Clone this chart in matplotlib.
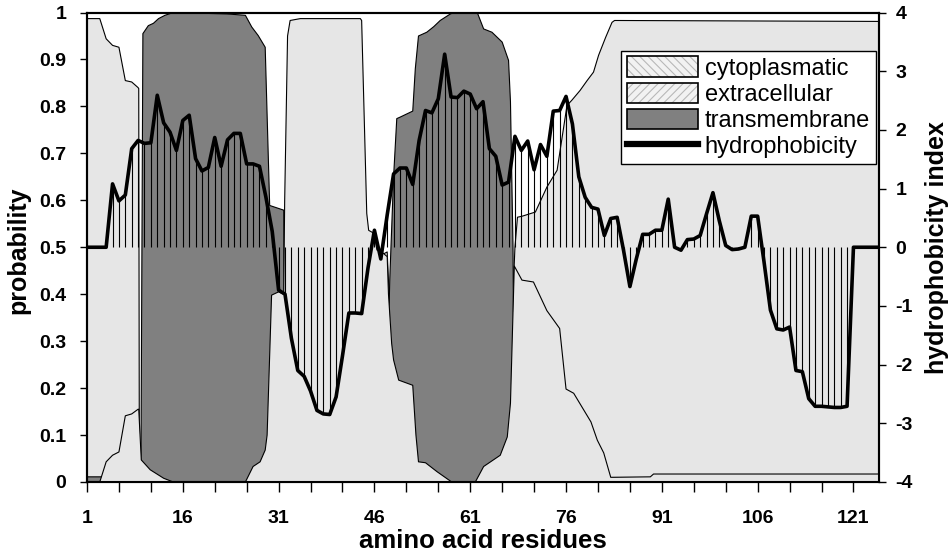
import numpy as np
import matplotlib
matplotlib.use('Agg')
import matplotlib.pyplot as plt
from matplotlib.patches import Patch
from matplotlib.lines import Line2D
from matplotlib.legend_handler import HandlerTuple

plt.rcParams['font.family'] = ['Liberation Sans', 'DejaVu Sans']
plt.rcParams['hatch.linewidth'] = 0.8
plt.rcParams['axes.unicode_minus'] = False

# residue index and hydrophobicity (secondary axis)
residues = np.arange(1, 126)
hydrophobicity = [
    0, 0, 0, 0, 1.08, 0.79, 0.89, 1.68, 1.82, 1.77,
    1.78, 2.59, 2.12, 1.96, 1.65, 2.16, 2.25, 1.51, 1.30, 1.36,
    1.87, 1.38, 1.83, 1.94, 1.94, 1.42, 1.42, 1.38, 0.86, 0.27,
    -0.73, -0.80, -1.55, -2.10, -2.20, -2.45, -2.78, -2.84, -2.85, -2.55,
    -1.85, -1.12, -1.12, -1.13, -0.35, 0.29, -0.20, 0.55, 1.25, 1.35,
    1.35, 1.07, 1.82, 2.33, 2.29, 2.53, 3.29, 2.56, 2.55, 2.66,
    2.61, 2.36, 2.48, 1.68, 1.55, 1.06, 1.11, 1.89, 1.65, 1.81,
    1.32, 1.75, 1.55, 2.32, 2.33, 2.57, 2.10, 1.20, 0.85, 0.68,
    0.65, 0.20, 0.49, 0.51, -0.05, -0.67, -0.20, 0.22, 0.22, 0.29,
    0.29, 0.82, 0.00, -0.05, 0.13, 0.14, 0.20, 0.57, 0.93, 0.45,
    0.03, -0.04, -0.03, 0.00, 0.53, 0.53, -0.25, -1.07, -1.39, -1.41,
    -1.36, -2.10, -2.12, -2.58, -2.71, -2.71, -2.72, -2.73, -2.73, -2.71,
    0, 0, 0, 0, 0,
]

# probability profiles
cyto_x = [1, 3, 4, 5, 6, 7, 8, 9, 9.1, 9.2, 28, 29.3, 44.0, 45.3, 48.0, 48.6, 50.0, 52.0,
          67.0, 67.7, 68.0, 68.4, 69.1, 71.2, 73.0, 74.6, 76.15, 76.9, 78.2, 79.3, 80.3,
          81.1, 82.2, 83.2, 83.6, 125]
cyto_p = [0.987, 0.987, 0.944, 0.930, 0.926, 0.855, 0.852, 0.840, 0.838, 0.003, 0.003, 0.011,
          0.012, 0.47, 0.49, 0.30, 0.05, 0.003,
          0.003, 0.40, 0.50, 0.564, 0.566, 0.575, 0.628, 0.664, 0.802, 0.813, 0.834, 0.855,
          0.873, 0.909, 0.947, 0.979, 0.983, 0.981]

tm_x = [1, 5.6, 6.0, 9.3, 9.45, 9.6, 9.75, 10.6, 11.4, 12.2, 13.2, 14.5, 22.9, 25.8, 26.8,
        27.8, 28.9, 29.6, 31.8, 32.0, 44.0, 44.5, 47.5, 48.0, 48.4, 49.0, 49.5, 50.0, 52.0,
        52.4, 52.9, 54.2, 55.3, 56.3, 57.9, 58.5, 62.1, 63.1, 64.4, 66.0, 67.0, 67.3, 67.7,
        67.9, 68.5, 125]
tm_p = [0.011, 0.011, 0.003, 0.003, 0.05, 0.5, 0.955, 0.972, 0.977, 0.987, 0.994, 1.0, 0.997,
        0.994, 0.969, 0.951, 0.926, 0.589, 0.579, 0.01, 0.01, 0.003, 0.02, 0.2, 0.43, 0.65,
        0.774, 0.777, 0.79, 0.88, 0.95, 0.958, 0.97, 0.983, 0.997, 1.0, 1.0, 0.965, 0.958,
        0.937, 0.898, 0.81, 0.5, 0.06, 0.01, 0.005]

extra_x = [1, 3, 4, 5, 6, 7, 8, 9, 9.1, 9.5, 10.9, 13.0, 14.5, 25.8, 27.0, 28.1, 28.9, 29.2,
           29.9, 31.0, 31.8, 31.95, 32.4, 32.8, 34.4, 43.8, 44.0, 44.8, 45.1, 45.9, 46.4, 47.4,
           48.0, 48.2, 48.7, 49.0, 49.8, 52.0, 52.5, 52.9, 54.0, 55.8, 58.1, 61.8, 63.1, 65.7,
           66.8, 67.3, 67.9, 69.1, 70.9, 73.0, 75.0, 76.0, 77.2, 79.9, 80.9, 81.9, 83.0, 89.2,
           89.7, 125]
extra_p = [0, 0, 0.043, 0.057, 0.064, 0.141, 0.145, 0.155, 0.155, 0.047, 0.026, 0.008, 0, 0,
           0.033, 0.043, 0.068, 0.10, 0.398, 0.405, 0.40, 0.60, 0.95, 0.983, 0.987, 0.987,
           0.983, 0.572, 0.536, 0.53, 0.494, 0.487, 0.48, 0.40, 0.295, 0.26, 0.217, 0.206, 0.10,
           0.043, 0.041, 0.022, 0, 0, 0.033, 0.057, 0.096, 0.168, 0.46, 0.43, 0.426, 0.365,
           0.327, 0.198, 0.189, 0.128, 0.089, 0.062, 0.010, 0.011, 0.017, 0.017]

light = '#e6e6e6'
dark = '#808080'

fig = plt.figure(figsize=(9.48, 5.53), dpi=100)
ax = fig.add_axes([87 / 948, 1 - 482 / 553, 792 / 948, 469.5 / 553])
ax2 = ax.twinx()

# overlapping areas: cytoplasmatic at the back, then transmembrane, extracellular in front
for xs, ps, col, z in [(cyto_x, cyto_p, light, 1), (tm_x, tm_p, dark, 2), (extra_x, extra_p, light, 3)]:
    ax.fill_between(xs, 0, ps, facecolor=col, edgecolor='none', zorder=z)
    ax.plot(xs, ps, color='black', lw=0.8, zorder=z + 0.5)

ax2.vlines(residues, 0, hydrophobicity, color='black', lw=0.8)
ax2.plot(residues, hydrophobicity, color='black', lw=2.6)

ax.set_xlim(1, 125)
ax.set_ylim(0, 1)
ax2.set_ylim(-4, 4)

ax.set_xticks(range(1, 126, 15))
ax.set_xticks(range(1, 126, 5), minor=True)
ax.set_yticks(np.arange(0, 1.01, 0.1))
ax.set_yticklabels(['0', '0.1', '0.2', '0.3', '0.4', '0.5', '0.6', '0.7', '0.8', '0.9', '1'])
ax2.set_yticks(range(-4, 5))

ax.tick_params(axis='x', which='both', direction='out', length=7, width=1, pad=13, labelsize=14)
ax.tick_params(axis='y', direction='out', length=5, width=1, pad=10, labelsize=14)
ax2.tick_params(axis='y', direction='out', length=5, width=1, pad=7, labelsize=14)
for lab in ax.get_xticklabels() + ax.get_yticklabels() + ax2.get_yticklabels():
    lab.set_fontweight('bold')

for a in (ax, ax2):
    for sp in a.spines.values():
        sp.set_linewidth(1.5)
        sp.set_color('black')

fig.text(18 / 948, 1 - 250 / 553, 'probability', rotation=90, ha='center', va='center',
         fontsize=18, fontweight='bold')
fig.text(937 / 948, 1 - 248 / 553, 'hydrophobicity index', rotation=90, ha='center', va='center',
         fontsize=18, fontweight='bold')
fig.text(483 / 948, 1 - 548 / 553, 'amino acid residues', ha='center', va='baseline',
         fontsize=18.5, fontweight='bold')

frame = dict(facecolor='none', edgecolor='black', lw=1.2)
handles = [
    (Patch(facecolor='#f2f2f2', edgecolor='#b8b8b8', hatch='\\\\\\\\', lw=0), Patch(**frame)),
    (Patch(facecolor='#f2f2f2', edgecolor='#b8b8b8', hatch='////', lw=0), Patch(**frame)),
    Patch(facecolor=dark, edgecolor='black', lw=1.2),
    Line2D([], [], color='black', lw=4.5),
]
labels = ['cytoplasmatic', 'extracellular', 'transmembrane', 'hydrophobicity']
leg = ax2.legend(handles, labels, handler_map={tuple: HandlerTuple(ndivide=1, pad=0)},
                 loc='upper right', bbox_to_anchor=(0.996, 0.919), frameon=True, fancybox=False,
                 edgecolor='black', framealpha=1, borderpad=0.25, handlelength=3.0,
                 handleheight=0.95, handletextpad=0.3, labelspacing=0.12, borderaxespad=0,
                 fontsize=17)
leg.get_frame().set_linewidth(1.0)

fig.savefig('out.png', dpi=100)
